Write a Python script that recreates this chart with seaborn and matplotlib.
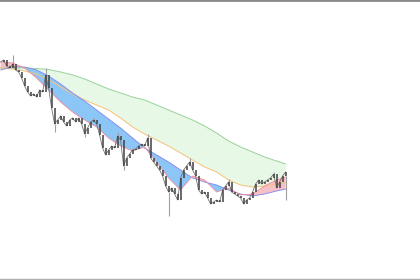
import numpy as np
import pandas as pd
import matplotlib
matplotlib.use("Agg")
import matplotlib.pyplot as plt
import seaborn as sns

# ---- data (price levels) ----
closes = [218, 220, 214, 212, 216, 210, 208, 202, 194, 188, 184, 186, 183, 190, 188, 205,
          192, 172, 156, 160, 164, 158, 154, 160, 162, 158, 162, 156, 146, 152, 158, 160,
          156, 145, 132, 125, 130, 134, 132, 144, 140, 114, 122, 126, 130, 131, 134, 136,
          134, 142, 122, 118, 114, 110, 104, 94, 88, 92, 86, 80, 102, 110, 114, 118,
          110, 104, 90, 86, 88, 82, 76, 78, 80, 78, 90, 94, 98, 88, 86, 84,
          82, 76, 80, 82, 88, 96, 100, 96, 98, 100, 102, 106, 92, 98, 104, 108]
wick_bars = [4, 15, 18, 28, 31, 39, 41, 49, 56, 63, 76, 91, 95]
wick_ends = [225, 212, 148, 143, 162, 148, 110, 146, 64, 122, 101, 108, 80]

ma_bar = [0, 4, 8, 12, 16, 20, 24, 28, 32, 36, 40, 44, 48, 52, 56, 60, 64, 68, 72, 76, 80, 84, 88, 92, 95]
ma_long = [212, 212, 212, 211.5, 210.5, 208, 205, 201, 196, 191, 187, 183, 180, 175, 170, 165,
           160, 154, 147, 139, 133, 128, 123, 119, 116]
ma_mid = [212, 211, 209, 206, 200, 193, 186, 180, 175, 170, 162, 153, 146, 140, 134, 127,
          120, 113, 108, 100, 95, 93, 94, 96, 97]
ma_slow = [210, 213, 213, 210, 204, 196, 187, 179, 170, 161, 152, 142, 132, 125, 118, 110,
           102, 98, 95, 90, 86, 84, 86, 89, 91]
ma_fast = [218, 217, 212, 202, 190, 178, 168, 160, 153, 142, 134, 129, 133, 118, 102, 90,
           104, 100, 88, 92, 85, 86, 94, 100, 103]

sns.set_style("white")
fig = plt.figure(figsize=(4.2, 2.8), dpi=100)
ax = fig.add_axes([0, 0, 1, 1])

x = np.array(ma_bar, dtype=float)
long_ = np.array(ma_long, dtype=float)
mid = np.array(ma_mid, dtype=float)
slow = np.array(ma_slow, dtype=float)
fast = np.array(ma_fast, dtype=float)

# long/mid cloud
ax.fill_between(x, long_, mid, color="#e8f8e6", linewidth=0, zorder=1)
# fast/slow ribbon
ax.fill_between(x, fast, slow, where=fast <= slow, interpolate=True,
                color="#8cc6f6", linewidth=0, zorder=2)
ax.fill_between(x, fast, slow, where=fast >= slow, interpolate=True,
                color="#f6c0c8", linewidth=0, zorder=2)

df = pd.DataFrame({"bar": x, "long": long_, "mid": mid, "slow": slow, "fast": fast})
sns.lineplot(data=df, x="bar", y="long", ax=ax, color="#95d395", linewidth=0.7, zorder=3)
sns.lineplot(data=df, x="bar", y="mid", ax=ax, color="#f6c27a", linewidth=0.7, zorder=3)
sns.lineplot(data=df, x="bar", y="slow", ax=ax, color="#7f86ec", linewidth=0.6, zorder=3)
sns.lineplot(data=df, x="bar", y="fast", ax=ax, color="#f48a98", linewidth=0.6, zorder=3)

# candles: open = previous close
c = np.array(closes, dtype=float)
o = np.concatenate([[c[0]], c[:-1]])
bars = np.arange(len(c))
hi = np.maximum(o, c)
lo = np.minimum(o, c)
for b, e in zip(wick_bars, wick_ends):
    if e > hi[b]:
        ax.vlines(b, hi[b], e, color="#a0a0a0", linewidth=0.8, zorder=4)
    else:
        ax.vlines(b, e, lo[b], color="#a0a0a0", linewidth=0.8, zorder=4)
pdf = pd.DataFrame({"bar": bars, "close": c})
sns.lineplot(data=pdf, x="bar", y="close", ax=ax, color="#707070", linewidth=0.6, zorder=4)
ax.vlines(bars, lo, hi, color="#404040", linewidth=1.1, zorder=5)

ax.set_xlim(-0.2, 139.8)
ax.set_ylim(0, 280)
ax.set_xticks([])
ax.set_yticks([])
ax.set_xlabel("")
ax.set_ylabel("")
for s in ["left", "right"]:
    ax.spines[s].set_visible(False)
ax.spines["top"].set_color("#8a8a8a")
ax.spines["top"].set_linewidth(2.0)
ax.spines["bottom"].set_color("#b0b0b0")
ax.spines["bottom"].set_linewidth(2.5)

fig.savefig("out.png", dpi=100)
